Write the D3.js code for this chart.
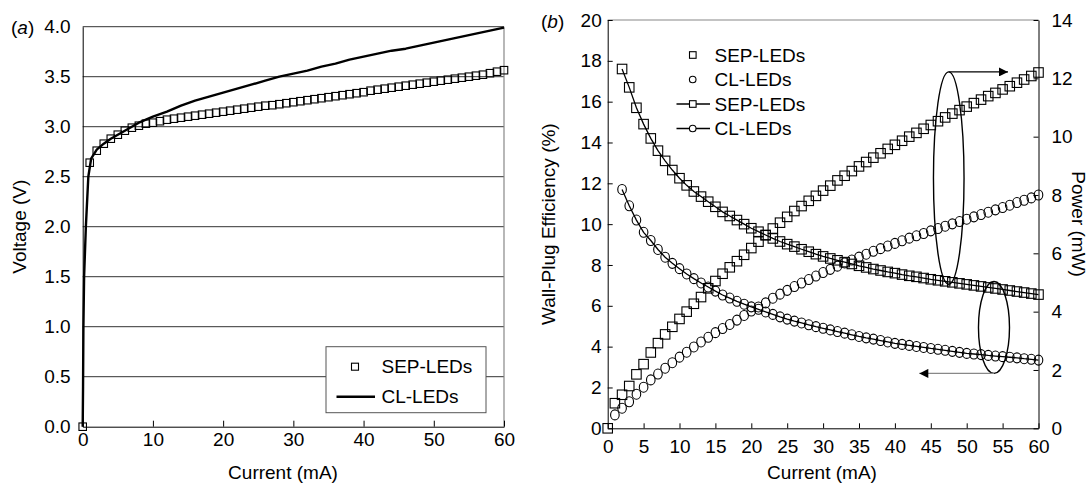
<!DOCTYPE html>
<html>
<head>
<meta charset="utf-8">
<script src="https://cdn.jsdelivr.net/npm/d3@7"></script>
<style>
  body { margin: 0; background: #fff; }
  svg { display: block; font-family: "Liberation Sans", Arial, sans-serif; }
</style>
</head>
<body>
<svg id="chart" width="1092" height="484"></svg>
<script>
// ---- data ----
const current = [0,1,2,3,4,5,6,7,8,9,10,11,12,13,14,15,16,17,18,19,20,21,22,23,24,25,26,27,28,29,30,
  31,32,33,34,35,36,37,38,39,40,41,42,43,44,45,46,47,48,49,50,51,52,53,54,55,56,57,58,59,60];

// (a) I-V
const sepVoltage = [0,2.64,2.76,2.83,2.88,2.92,2.96,2.99,3.01,3.03,3.04,3.055,3.07,3.08,3.09,3.1,3.11,3.12,3.13,3.14,3.15,
  3.16,3.17,3.18,3.19,3.2,3.21,3.215,3.225,3.235,3.245,3.255,3.265,3.275,3.285,3.295,3.305,3.315,3.325,3.335,3.345,
  3.36,3.37,3.38,3.39,3.4,3.41,3.42,3.43,3.44,3.45,3.46,3.47,3.48,3.49,3.5,3.51,3.52,3.535,3.55,3.565];
const clCurrent = [0,0.05,0.1,0.2,0.45,0.8,1.2,2,3,4,5,6,7,8,9,10,12,14,16,18,20,22,24,26,28,30,32,34,36,38,40,
  42,44,46,48,50,52,54,56,58,60];
const clVoltage = [0,0.4,1.0,1.5,2.0,2.5,2.68,2.77,2.83,2.88,2.92,2.96,3.0,3.04,3.07,3.1,3.15,3.21,3.26,3.3,3.34,
  3.38,3.42,3.46,3.5,3.53,3.56,3.6,3.63,3.67,3.7,3.73,3.76,3.78,3.81,3.84,3.87,3.9,3.93,3.96,3.99];

// (b) efficiency (left axis, %), from 2 mA
const effCurrent = current.slice(2);
const sepEfficiency = [17.6,16.7,15.7,14.9,14.2,13.6,13.1,12.65,12.25,11.9,11.6,11.35,11.1,10.85,10.6,10.4,10.2,10.0,9.8,
  9.63,9.47,9.3,9.15,9.02,8.9,8.77,8.65,8.53,8.42,8.32,8.23,8.14,8.05,7.96,7.88,7.8,7.73,7.66,7.6,
  7.53,7.47,7.42,7.36,7.3,7.25,7.2,7.15,7.1,7.05,7.0,6.95,6.9,6.85,6.8,6.75,6.7,6.65,6.6,6.55];
const clEfficiency = [11.7,10.9,10.2,9.6,9.2,8.76,8.38,8.08,7.82,7.56,7.33,7.12,6.92,6.72,6.53,6.38,6.22,6.08,5.95,
  5.83,5.7,5.58,5.46,5.35,5.25,5.16,5.07,4.98,4.9,4.82,4.74,4.66,4.58,4.5,4.43,4.37,4.3,4.23,4.16,
  4.11,4.06,4.01,3.96,3.91,3.87,3.82,3.77,3.72,3.67,3.64,3.61,3.57,3.54,3.51,3.48,3.45,3.41,3.38,3.34];

// (b) optical power (right axis, mW)
const sepPower = [0,0.86,1.15,1.45,1.85,2.2,2.6,2.92,3.22,3.48,3.75,4.0,4.27,4.5,4.8,5.05,5.3,5.52,5.73,5.95,6.18,
  6.4,6.62,6.85,7.05,7.25,7.45,7.62,7.8,7.97,8.15,8.32,8.5,8.66,8.82,8.98,9.13,9.28,9.43,9.58,9.72,
  9.86,10.0,10.13,10.27,10.4,10.53,10.66,10.79,10.91,11.03,11.15,11.27,11.39,11.5,11.62,11.73,11.85,11.96,12.08,12.2];
const clPowerCurrent = current.slice(1);
const clPower = [0.46,0.69,0.91,1.17,1.41,1.66,1.86,2.06,2.25,2.44,2.61,2.79,2.96,3.12,3.28,3.42,3.56,3.71,3.87,4.02,
  4.16,4.3,4.46,4.6,4.73,4.86,4.98,5.1,5.22,5.34,5.45,5.56,5.67,5.77,5.87,5.97,6.07,6.16,6.25,6.34,
  6.43,6.52,6.6,6.68,6.77,6.85,6.93,7.01,7.09,7.17,7.25,7.33,7.41,7.49,7.57,7.65,7.74,7.82,7.9,8.0];

// ticks
const voltTicks = [0,0.5,1,1.5,2,2.5,3,3.5,4];
const currentTicksA = [0,10,20,30,40,50,60];
const currentTicksB = [0,5,10,15,20,25,30,35,40,45,50,55,60];
const effTicks = [0,2,4,6,8,10,12,14,16,18,20];
const powerTicks = [0,2,4,6,8,10,12,14];

// annotation ellipses in data units: [centre mA, centre value, half-width mA, half-height value]
const powerRing = [47.5, 8.58, 2.13, 3.64];   // power axis
const effRing = [53.8, 4.94, 2.16, 2.25];     // efficiency axis
const powerArrowEnd = 55.75;
const effArrowEnd = 43.4;

const FS = 19;
const svg = d3.select("#chart");

const defs = svg.append("defs");
defs.append("marker")
  .attr("id", "head")
  .attr("viewBox", "0 0 10 10")
  .attr("refX", 10).attr("refY", 5)
  .attr("markerWidth", 12).attr("markerHeight", 9)
  .attr("markerUnits", "userSpaceOnUse")
  .attr("orient", "auto")
  .append("path").attr("d", "M0,0L10,5L0,10Z").attr("fill", "#000");

function styleAxis(g) {
  g.selectAll("text").attr("font-size", FS).attr("fill", "#000")
    .attr("font-family", "Liberation Sans, Arial, sans-serif");
  g.selectAll("line").attr("stroke", "#000");
  g.select(".domain").attr("stroke", "#000");
}

function squares(g, xs, ys, xv, yv, size) {
  g.selectAll(null).data(xv).join("rect")
    .attr("x", (d) => xs(d) - size / 2)
    .attr("y", (d, i) => ys(yv[i]) - size / 2)
    .attr("width", size).attr("height", size)
    .attr("fill", "none").attr("stroke", "#000").attr("stroke-width", 1.1);
}

function circles(g, xs, ys, xv, yv, rx, ry) {
  g.selectAll(null).data(xv).join("ellipse")
    .attr("cx", (d) => xs(d))
    .attr("cy", (d, i) => ys(yv[i]))
    .attr("rx", rx).attr("ry", ry)
    .attr("fill", "none").attr("stroke", "#000").attr("stroke-width", 1.1);
}

// ================= panel (a) =================
const xA = d3.scaleLinear().domain([0, 60]).range([82.7, 504]);
const yA = d3.scaleLinear().domain([0, 4]).range([426.7, 26.7]);

// grid lines
svg.append("g")
  .selectAll("line").data(voltTicks.slice(1)).join("line")
  .attr("x1", xA(0)).attr("x2", xA(60))
  .attr("y1", (d) => yA(d)).attr("y2", (d) => yA(d))
  .attr("stroke", "#333").attr("stroke-width", 1);
svg.append("line")
  .attr("x1", xA(60)).attr("x2", xA(60)).attr("y1", yA(4)).attr("y2", yA(0))
  .attr("stroke", "#888").attr("stroke-width", 1.2);

const axA = svg.append("g").attr("transform", `translate(0,${yA(0)})`)
  .call(d3.axisBottom(xA).tickValues(currentTicksA).tickSize(-6).tickPadding(5.5).tickSizeOuter(0));
styleAxis(axA);
const ayA = svg.append("g").attr("transform", `translate(${xA(0)},0)`)
  .call(d3.axisLeft(yA).tickValues(voltTicks).tickFormat(d3.format(".1f")).tickSize(0).tickPadding(12));
styleAxis(ayA);

// CL line
svg.append("path")
  .datum(clCurrent)
  .attr("d", d3.line().x((d) => xA(d)).y((d, i) => yA(clVoltage[i])))
  .attr("fill", "none").attr("stroke", "#000").attr("stroke-width", 2.4).attr("stroke-linejoin", "round");
// SEP squares
squares(svg.append("g"), xA, yA, current, sepVoltage, 7.5);

// legend (a)
const legA = svg.append("g");
legA.append("rect").attr("x", 326).attr("y", 346.7).attr("width", 160).attr("height", 66)
  .attr("fill", "#fff").attr("stroke", "#555").attr("stroke-width", 1);
legA.append("rect").attr("x", 351.5).attr("y", 363.2).attr("width", 7).attr("height", 7)
  .attr("fill", "none").attr("stroke", "#000").attr("stroke-width", 1.1);
legA.append("line").attr("x1", 336.5).attr("x2", 375).attr("y1", 396.7).attr("y2", 396.7)
  .attr("stroke", "#000").attr("stroke-width", 2.4);
legA.append("text").attr("x", 381.5).attr("y", 366.7).attr("dy", "0.35em").attr("font-size", FS).text("SEP-LEDs");
legA.append("text").attr("x", 381.5).attr("y", 396.7).attr("dy", "0.35em").attr("font-size", FS).text("CL-LEDs");

// labels (a)
svg.append("text").attr("x", 283).attr("y", 472).attr("dy", "0.35em").attr("text-anchor", "middle")
  .attr("font-size", FS).text("Current (mA)");
svg.append("text").attr("transform", `translate(19,${(yA(0) + yA(4)) / 2}) rotate(-90)`)
  .attr("dy", "0.35em").attr("text-anchor", "middle").attr("font-size", FS).text("Voltage (V)");
const tagA = svg.append("text").attr("x", 11).attr("y", 27).attr("dy", "0.35em").attr("font-size", FS);
tagA.append("tspan").text("(");
tagA.append("tspan").attr("font-style", "italic").text("a");
tagA.append("tspan").text(")");

// ================= panel (b) =================
const xB = d3.scaleLinear().domain([0, 60]).range([607.7, 1038.5]);
const yE = d3.scaleLinear().domain([0, 20]).range([428.3, 20]);
const yP = d3.scaleLinear().domain([0, 14]).range([428.3, 20]);

svg.append("line")
  .attr("x1", xB(0)).attr("x2", xB(60)).attr("y1", yE(20)).attr("y2", yE(20))
  .attr("stroke", "#888").attr("stroke-width", 1.2);

const axB = svg.append("g").attr("transform", `translate(0,${yE(0)})`)
  .call(d3.axisBottom(xB).tickValues(currentTicksB).tickSize(-5).tickPadding(11.5).tickSizeOuter(0));
styleAxis(axB);
const ayE = svg.append("g").attr("transform", `translate(${xB(0)},0)`)
  .call(d3.axisLeft(yE).tickValues(effTicks).tickSize(-5).tickPadding(6).tickSizeOuter(0));
styleAxis(ayE);
const ayP = svg.append("g").attr("transform", `translate(${xB(60)},0)`)
  .call(d3.axisRight(yP).tickValues(powerTicks).tickSize(-5).tickPadding(13).tickSizeOuter(0));
styleAxis(ayP);

// efficiency lines + markers
const effLine = (vals) => d3.line().x((d) => xB(d)).y((d, i) => yE(vals[i]));
svg.append("path").datum(effCurrent).attr("d", effLine(sepEfficiency))
  .attr("fill", "none").attr("stroke", "#000").attr("stroke-width", 1.3);
svg.append("path").datum(effCurrent).attr("d", effLine(clEfficiency))
  .attr("fill", "none").attr("stroke", "#000").attr("stroke-width", 1.3);
squares(svg.append("g"), xB, yE, effCurrent, sepEfficiency, 9.5);
circles(svg.append("g"), xB, yE, effCurrent, clEfficiency, 4.3, 5);

// power markers
squares(svg.append("g"), xB, yP, current, sepPower, 9.5);
circles(svg.append("g"), xB, yP, clPowerCurrent, clPower, 4.3, 5);

// annotations
svg.append("ellipse")
  .attr("cx", xB(powerRing[0])).attr("cy", yP(powerRing[1]))
  .attr("rx", xB(powerRing[2]) - xB(0)).attr("ry", yP(0) - yP(powerRing[3]))
  .attr("fill", "none").attr("stroke", "#000").attr("stroke-width", 1.4);
svg.append("line")
  .attr("x1", xB(powerRing[0])).attr("x2", xB(powerArrowEnd))
  .attr("y1", yP(powerRing[1] + powerRing[3])).attr("y2", yP(powerRing[1] + powerRing[3]))
  .attr("stroke", "#000").attr("stroke-width", 1.4).attr("marker-end", "url(#head)");
svg.append("ellipse")
  .attr("cx", xB(effRing[0])).attr("cy", yE(effRing[1]))
  .attr("rx", xB(effRing[2]) - xB(0)).attr("ry", yE(0) - yE(effRing[3]))
  .attr("fill", "none").attr("stroke", "#000").attr("stroke-width", 1.4);
svg.append("line")
  .attr("x1", xB(effRing[0])).attr("x2", xB(effArrowEnd))
  .attr("y1", yE(effRing[1] - effRing[3])).attr("y2", yE(effRing[1] - effRing[3]))
  .attr("stroke", "#888").attr("stroke-width", 1.2).attr("marker-end", "url(#head)");

// legend (b)
const legB = svg.append("g");
const rowY = [55, 79.5, 104, 128.5];
const legNames = ["SEP-LEDs", "CL-LEDs", "SEP-LEDs", "CL-LEDs"];
[2, 3].forEach((k) => {
  legB.append("line").attr("x1", 676.5).attr("x2", 710).attr("y1", rowY[k]).attr("y2", rowY[k])
    .attr("stroke", "#000").attr("stroke-width", 1.3);
});
[0, 2].forEach((k) => {
  legB.append("rect").attr("x", 689.5).attr("y", rowY[k] - 3.3).attr("width", 6.6).attr("height", 6.6)
    .attr("fill", "#fff").attr("stroke", "#000").attr("stroke-width", 1.1);
});
[1, 3].forEach((k) => {
  legB.append("circle").attr("cx", 692.7).attr("cy", rowY[k]).attr("r", 3.3)
    .attr("fill", "#fff").attr("stroke", "#000").attr("stroke-width", 1.1);
});
legB.selectAll("text").data(legNames).join("text")
  .attr("x", 714.5)
  .attr("y", (d, i) => rowY[i]).attr("dy", "0.35em").attr("font-size", FS).text((d) => d);

// labels (b)
svg.append("text").attr("x", 822).attr("y", 472).attr("dy", "0.35em").attr("text-anchor", "middle")
  .attr("font-size", FS).text("Current (mA)");
svg.append("text").attr("transform", `translate(548,${(yE(0) + yE(20)) / 2}) rotate(-90)`)
  .attr("dy", "0.35em").attr("text-anchor", "middle").attr("font-size", FS).text("Wall-Plug Efficiency (%)");
svg.append("text").attr("transform", `translate(1079,${(yE(0) + yE(20)) / 2}) rotate(90)`)
  .attr("dy", "0.35em").attr("text-anchor", "middle").attr("font-size", FS).text("Power (mW)");
const tagB = svg.append("text").attr("x", 541).attr("y", 21).attr("dy", "0.35em").attr("font-size", FS);
tagB.append("tspan").text("(");
tagB.append("tspan").attr("font-style", "italic").text("b");
tagB.append("tspan").text(")");
</script>
</body>
</html>
